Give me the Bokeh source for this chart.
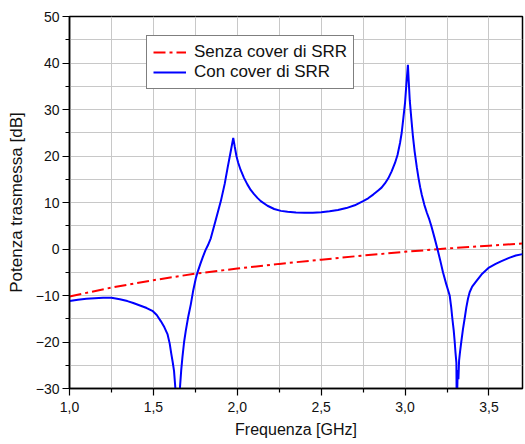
from bokeh.plotting import figure
from bokeh.models import FixedTicker, Legend, LegendItem, Range1d
from bokeh.embed import file_html
from bokeh.resources import INLINE

# ---- data ----
freq_ref = [1.0, 1.25, 1.5, 1.75, 2.0, 2.25, 2.5, 2.75, 3.0, 3.25, 3.5, 3.7]
db_ref = [-10.2, -8.3, -6.7, -5.3, -4.2, -3.2, -2.3, -1.4, -0.6, 0.1, 0.7, 1.2]

freq_srr = [1.00, 1.05, 1.10, 1.15, 1.20, 1.25, 1.30, 1.345, 1.38, 1.424,
            1.46, 1.494, 1.52, 1.544, 1.565, 1.584, 1.597, 1.607, 1.615, 1.623,
            1.630, 1.638, 1.650, 1.659, 1.666, 1.673, 1.683, 1.693, 1.708, 1.723,
            1.738, 1.753, 1.765, 1.78, 1.795, 1.81, 1.825, 1.842, 1.87, 1.902,
            1.925, 1.942, 1.96, 1.976, 1.985, 1.995, 2.005, 2.02, 2.04, 2.06,
            2.08, 2.10, 2.12, 2.14, 2.18, 2.22, 2.26, 2.30, 2.35, 2.40,
            2.45, 2.50, 2.55, 2.60, 2.65, 2.70, 2.75, 2.78, 2.81, 2.84,
            2.86, 2.88, 2.90, 2.92, 2.94, 2.955, 2.97, 2.98, 2.99, 3.00,
            3.008, 3.017, 3.022, 3.028, 3.037, 3.047, 3.057, 3.07, 3.08, 3.09,
            3.10, 3.115, 3.13, 3.145, 3.157, 3.175, 3.193, 3.21, 3.226, 3.245,
            3.266, 3.275, 3.282, 3.29, 3.296, 3.30, 3.306, 3.308, 3.314, 3.318,
            3.322, 3.328, 3.335, 3.345, 3.355, 3.365, 3.375, 3.385, 3.40, 3.425,
            3.46, 3.50, 3.54, 3.575, 3.62, 3.66, 3.70]
db_srr = [-11.2, -10.9, -10.7, -10.6, -10.5, -10.5, -10.8, -11.2, -11.6, -12.2,
          -12.7, -13.3, -14.2, -15.5, -16.8, -18.3, -20.3, -22.6, -24.3, -26.2,
          -29.5, -35.0, -35.0, -29.5, -26.0, -23.3, -20.0, -17.6, -14.5, -11.9,
          -8.8, -6.3, -4.8, -3.2, -1.7, -0.3, 0.8, 2.3, 6.0, 10.3,
          14.0, 17.4, 20.8, 23.9, 22.0, 20.0, 18.6, 17.0, 15.3, 13.9,
          12.7, 11.8, 11.0, 10.3, 9.3, 8.6, 8.2, 8.0, 7.85, 7.8,
          7.8, 7.9, 8.1, 8.4, 8.8, 9.4, 10.3, 10.9, 11.7, 12.6,
          13.2, 14.1, 15.2, 16.7, 18.5, 20.2, 22.8, 25.0, 28.2, 31.5,
          35.5, 39.6, 36.0, 32.0, 28.2, 24.2, 21.0, 17.6, 15.3, 13.3,
          11.6, 9.5, 7.8, 6.3, 4.9, 2.5, 0.0, -2.5, -5.0, -7.5,
          -10.0, -12.5, -15.0, -17.5, -20.0, -22.0, -24.5, -35.0, -26.0, -28.0,
          -24.0, -22.0, -20.0, -17.3, -15.0, -12.6, -10.7, -9.3, -8.1, -6.9,
          -5.3, -4.0, -3.2, -2.6, -1.9, -1.4, -1.1]

x_major = [1.0, 1.5, 2.0, 2.5, 3.0, 3.5]
x_minor = [1.25, 1.75, 2.25, 2.75, 3.25]
x_labels = ["1,0", "1,5", "2,0", "2,5", "3,0", "3,5"]
y_major = [-30, -20, -10, 0, 10, 20, 30, 40, 50]
y_minor = [-25, -15, -5, 5, 15, 25, 35, 45]

FONT = "Liberation Sans"

p = figure(width=525, height=444, output_backend="svg", toolbar_location=None,
           x_range=Range1d(1.0, 3.7), y_range=Range1d(-30, 50),
           min_border_left=69, min_border_right=3, min_border_top=16,
           min_border_bottom=56)
p.background_fill_color = "white"
p.border_fill_color = "white"
p.outline_line_color = "black"
p.outline_line_width = 1.5

p.xaxis.ticker = FixedTicker(ticks=x_major, minor_ticks=x_minor)
p.yaxis.ticker = FixedTicker(ticks=y_major, minor_ticks=y_minor)
p.xaxis.major_label_overrides = {t: l for t, l in zip(x_major, x_labels)}

for ax in (p.xaxis, p.yaxis):
    ax.axis_line_color = "black"
    ax.axis_line_width = 1.5
    ax.major_tick_line_color = "black"
    ax.minor_tick_line_color = "black"
    ax.major_tick_line_width = 1.2
    ax.minor_tick_line_width = 1.2
    ax.major_tick_out = 7
    ax.major_tick_in = 0
    ax.minor_tick_out = 4
    ax.minor_tick_in = 0
    ax.major_label_text_font = FONT
    ax.major_label_text_font_size = "14px"
    ax.major_label_text_color = "#111111"
    ax.axis_label_text_font = FONT
    ax.axis_label_text_font_style = "normal"
    ax.axis_label_text_color = "#111111"

p.xaxis.axis_label = "Frequenza [GHz]"
p.yaxis.axis_label = "Potenza trasmessa [dB]"
p.xaxis.axis_label_text_font_size = "16px"
p.yaxis.axis_label_text_font_size = "17px"
p.xaxis.major_label_standoff = 6
p.xaxis.axis_label_standoff = 6
p.yaxis.major_label_standoff = 3
p.yaxis.axis_label_standoff = 7

for g in (p.xgrid, p.ygrid):
    g.grid_line_color = "#c8c8c8"
    g.grid_line_width = 1
    g.minor_grid_line_color = "#c8c8c8"
    g.minor_grid_line_width = 1

r_ref = p.line(freq_ref, db_ref, line_color="#ff0000", line_width=2,
               line_dash="12 4 3 4")
r_srr = p.line(freq_srr, db_srr, line_color="#0000ff", line_width=2)

legend = Legend(items=[LegendItem(label="Senza cover di SRR", renderers=[r_ref]),
                       LegendItem(label="Con cover di SRR", renderers=[r_srr])],
                location=(77, 299))
legend.border_line_color = "black"
legend.border_line_width = 1
legend.background_fill_color = "white"
legend.background_fill_alpha = 1
legend.label_text_font = FONT
legend.label_text_font_size = "17px"
legend.label_text_color = "#111111"
legend.padding = 6
legend.spacing = 0
legend.label_height = 20
legend.glyph_height = 20
legend.glyph_width = 33
legend.label_standoff = 8
legend.margin = 0
p.add_layout(legend, "center")

open("out.html", "w").write(file_html(p, INLINE))
